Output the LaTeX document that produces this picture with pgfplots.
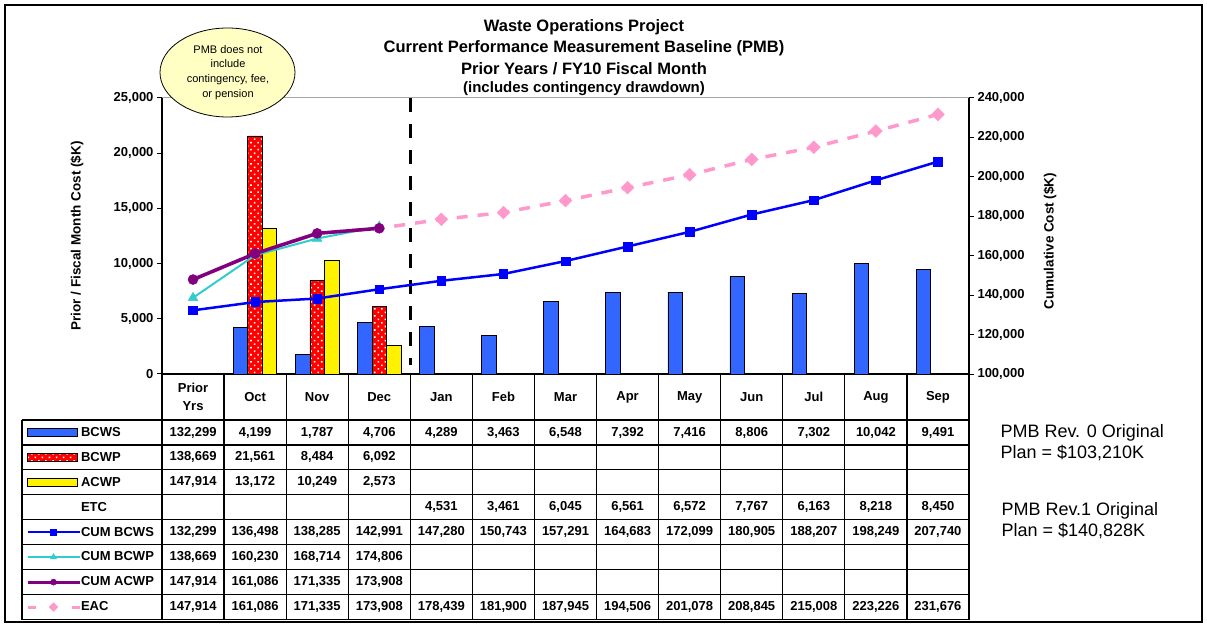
\documentclass[border=0pt]{standalone}
\usepackage{pgfplots}
\pgfplotsset{compat=1.18}
\usepackage{fontspec}
\setmainfont{Liberation Sans}
\usetikzlibrary{patterns,patterns.meta}
\definecolor{barblue}{HTML}{3366FF}
\definecolor{lineblue}{HTML}{0000FF}
\definecolor{turq}{HTML}{33CCCC}
\definecolor{purp}{HTML}{800080}
\definecolor{pinkc}{HTML}{FF99CC}
\definecolor{bubble}{HTML}{FFFFC4}
\newcommand\tabfont{\fontsize{13}{15}\selectfont\bfseries}
\newcommand\tickfont{\fontsize{13}{13}\selectfont\bfseries}
\newcommand{\tabrow}[3]{%
  \foreach \v [count=\c from #2] in {#3}{%
    \node[font=\tabfont, inner sep=0pt] at ({162+62.077*(\c+0.5)},{207-24.94*(#1+0.5)})
      {\pgfmathprintnumber[fixed,precision=0,1000 sep={,},assume math mode=true]{\v}};}}
\pgfplotsset{
  barlegend/.style={legend image code/.code={\draw[##1] (0pt,-4pt) rectangle (50pt,4pt);}},
  linelegend/.style={legend image code/.code={\draw[mark repeat=2,mark phase=2,##1] plot coordinates {(0pt,0pt) (26pt,0pt) (52pt,0pt)};}},
}
\begin{document}
\begin{tikzpicture}[x=1pt,y=1pt]
\useasboundingbox (0,0) rectangle (1207,627);
\fill[white] (0,0) rectangle (1207,627);
\draw[line width=1.5pt] (5,5) rectangle (1202,622);

% ---------- left axis: monthly bars ----------
\begin{axis}[
  at={(162pt,253pt)}, anchor=south west,
  width=807pt, height=276pt, scale only axis,
  xmin=-0.5, xmax=12.5, ymin=0, ymax=25000,
  axis x line*=bottom, axis y line*=left,
  axis line style={line width=1.2pt, black},
  xtick=\empty,
  ytick={0,5000,10000,15000,20000,25000},
  tick align=outside, major tick length=5pt,
  tick style={black, line width=1pt},
  yticklabel style={font=\tickfont},
  scaled y ticks=false,
  /pgf/number format/fixed,
  /pgf/number format/1000 sep={,},
  /pgf/number format/assume math mode=true,
]
\addplot[ybar, bar width=14.5pt, bar shift=-14.5pt, fill=barblue, draw=black, line width=0.8pt]
  coordinates {(1,4199) (2,1787) (3,4706) (4,4289) (5,3463) (6,6548) (7,7392) (8,7416) (9,8806) (10,7302) (11,10042) (12,9491)};
\addplot[ybar, bar width=14.5pt, bar shift=0pt, fill=red, draw=black, line width=0.8pt,
  postaction={pattern={Dots[distance=5pt, radius=1.1pt, angle=45]}, pattern color=white}]
  coordinates {(1,21561) (2,8484) (3,6092)};
\addplot[ybar, bar width=14.5pt, bar shift=14.5pt, fill=yellow, draw=black, line width=0.8pt]
  coordinates {(1,13172) (2,10249) (3,2573)};
\draw[black, line width=3.5pt, dash pattern=on 14pt off 12pt] (axis cs:3.5,25000) -- (axis cs:3.5,800);
\end{axis}
\draw[gray!70, line width=1pt] (162,529) -- (969,529);

% ---------- right axis: cumulative lines ----------
\begin{axis}[
  at={(162pt,253pt)}, anchor=south west,
  width=807pt, height=276pt, scale only axis,
  xmin=-0.5, xmax=12.5, ymin=100000, ymax=240000,
  axis y line*=right, axis x line=none,
  axis line style={line width=1.2pt, black},
  ytick={100000,120000,140000,160000,180000,200000,220000,240000},
  tick align=outside, major tick length=5pt,
  tick style={black, line width=1pt},
  yticklabel style={font=\tickfont},
  scaled y ticks=false,
  /pgf/number format/fixed,
  /pgf/number format/1000 sep={,},
  /pgf/number format/assume math mode=true,
  legend style={at={(axis description cs:-0.1685,-0.1667)}, anchor=north west,
    draw=none, fill=none, inner sep=0pt, outer sep=0pt, row sep=0pt, column sep=0pt,
    font=\tabfont, nodes={minimum height=24.94pt, inner sep=0pt}},
  legend cell align=left,
]
\addplot[forget plot, color=pinkc, line width=3.5pt, dash pattern=on 11pt off 10pt,
  mark=square*, mark size=4.5pt, mark options={solid, rotate=45, line width=0.5pt, fill=pinkc},
  mark indices={5,6,7,8,9,10,11,12,13}]
  coordinates {(0,147914) (1,161086) (2,171335) (3,173908) (4,178439) (5,181900) (6,187945) (7,194506) (8,201078) (9,208845) (10,215008) (11,223226) (12,231676)};
\addplot[forget plot, color=lineblue, line width=2.5pt, mark=square*, mark size=4.3pt,
  mark options={line width=0.5pt, fill=lineblue}]
  coordinates {(0,132299) (1,136498) (2,138285) (3,142991) (4,147280) (5,150743) (6,157291) (7,164683) (8,172099) (9,180905) (10,188207) (11,198249) (12,207740)};
\addplot[forget plot, color=turq, line width=2pt, mark=triangle*, mark size=5.5pt,
  mark options={line width=0.5pt, fill=turq}]
  coordinates {(0,138669) (1,160230) (2,168714) (3,174806)};
\addplot[forget plot, color=purp, line width=3.5pt, mark=*, mark size=5pt,
  mark options={line width=0.5pt, fill=purp}]
  coordinates {(0,147914) (1,161086) (2,171335) (3,173908)};

\addlegendimage{barlegend, fill=barblue, draw=black, line width=1pt}
\addlegendentry{BCWS}
\addlegendimage{barlegend, fill=red, draw=black, line width=1pt,
  postaction={pattern={Dots[distance=5pt, radius=1.1pt, angle=45]}, pattern color=white}}
\addlegendentry{BCWP}
\addlegendimage{barlegend, fill=yellow, draw=black, line width=1pt}
\addlegendentry{ACWP}
\addlegendimage{empty legend}
\addlegendentry{ETC}
\addlegendimage{linelegend, color=lineblue, line width=2.5pt, mark=square*, mark size=3pt, mark options={line width=0.5pt, fill=lineblue}}
\addlegendentry{CUM BCWS}
\addlegendimage{linelegend, color=turq, line width=2.5pt, mark=triangle*, mark size=3.5pt, mark options={line width=0.5pt, fill=turq}}
\addlegendentry{CUM BCWP}
\addlegendimage{linelegend, color=purp, line width=3pt, mark=*, mark size=3pt, mark options={line width=0.5pt, fill=purp}}
\addlegendentry{CUM ACWP}
\addlegendimage{linelegend, color=pinkc, line width=3pt, dash pattern=on 8pt off 36pt, mark=square*, mark size=3pt, mark options={solid, rotate=45, line width=0.5pt, fill=pinkc}}
\addlegendentry{EAC}
\end{axis}

% ---------- titles and labels ----------
\node[font=\fontsize{16.5}{16.5}\selectfont\bfseries] at (584,600) {Waste Operations Project};
\node[font=\fontsize{16.5}{16.5}\selectfont\bfseries] at (584,579) {Current Performance Measurement Baseline (PMB)};
\node[font=\fontsize{16.5}{16.5}\selectfont\bfseries] at (584,558) {Prior Years / FY10 Fiscal Month};
\node[font=\fontsize{15}{15}\selectfont\bfseries] at (584,538) {(includes contingency drawdown)};
\node[rotate=90, font=\fontsize{13.5}{13.5}\selectfont\bfseries] at (77,391) {Prior / Fiscal Month Cost (\$K)};
\node[rotate=90, font=\fontsize{13.5}{13.5}\selectfont\bfseries] at (1050,386) {Cumulative Cost (\$K)};

% bubble
\draw[fill=bubble, line width=0.8pt] (227.5,554.5) ellipse [x radius=67.5, y radius=44.5];
\node[align=center, font=\fontsize{11}{14.7}\selectfont] at (228,554.5) {PMB does not\\include\\contingency, fee,\\or pension};

% notes on the right
\node[anchor=west, align=left, font=\fontsize{18}{21}\selectfont] at (997,184.5) {PMB Rev. 0 Original\\Plan = \$103,210K};
\node[anchor=west, align=left, font=\fontsize{18}{21}\selectfont] at (998,106) {PMB Rev.1 Original\\Plan = \$140,828K};

% ---------- data table ----------
\foreach \i in {0,...,8} {\draw[line width=1.2pt] (22,{207-24.94*\i}) -- (969,{207-24.94*\i});}
\draw[line width=1.2pt] (22,207) -- (22,7.5);
\foreach \k in {0,...,13} {\draw[line width=1.2pt] ({162+62.077*\k},253) -- ({162+62.077*\k},7.5);}
% header
\node[align=center, font=\fontsize{13}{18}\selectfont\bfseries] at ({162+62.077*0.5},230) {Prior\\Yrs};
\foreach \m [count=\c from 1] in {Oct,Nov,Dec,Jan,Feb,Mar,Apr,May,Jun,Jul,Aug,Sep}
  {\node[font=\tabfont] at ({162+62.077*(\c+0.5)},230) {\m};}
% rows
\tabrow{0}{0}{132299,4199,1787,4706,4289,3463,6548,7392,7416,8806,7302,10042,9491}
\tabrow{1}{0}{138669,21561,8484,6092}
\tabrow{2}{0}{147914,13172,10249,2573}
\tabrow{3}{4}{4531,3461,6045,6561,6572,7767,6163,8218,8450}
\tabrow{4}{0}{132299,136498,138285,142991,147280,150743,157291,164683,172099,180905,188207,198249,207740}
\tabrow{5}{0}{138669,160230,168714,174806}
\tabrow{6}{0}{147914,161086,171335,173908}
\tabrow{7}{0}{147914,161086,171335,173908,178439,181900,187945,194506,201078,208845,215008,223226,231676}
\end{tikzpicture}
\end{document}
